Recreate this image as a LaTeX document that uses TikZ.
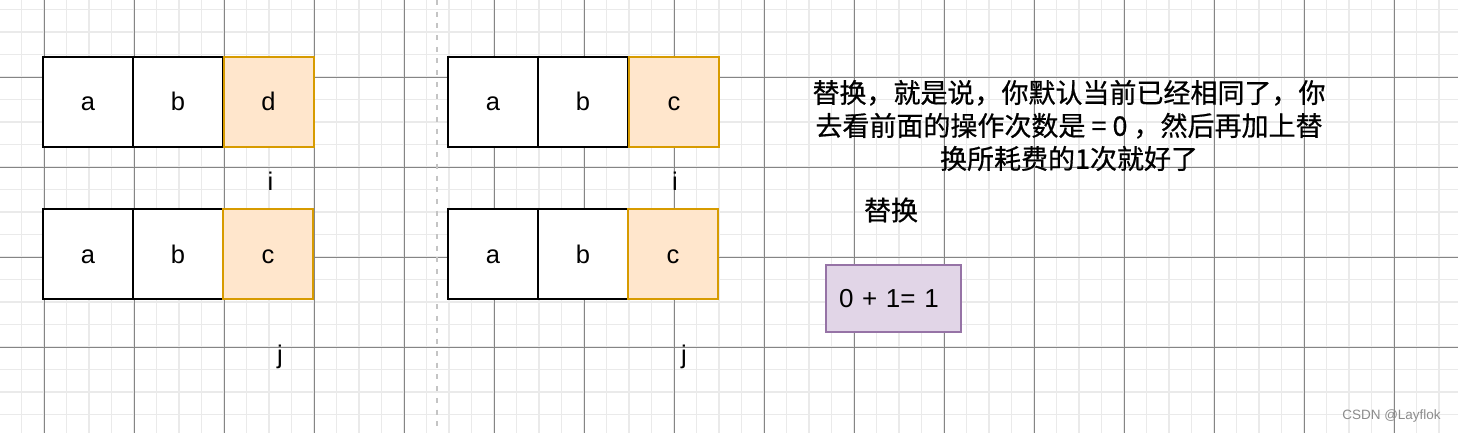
\documentclass[tikz,border=0pt]{standalone}
\usepackage{fontspec}
\setmainfont{Liberation Sans}
\newfontfamily\cjk[FakeBold=0.6]{Noto Sans CJK SC}
\definecolor{minorgrid}{HTML}{EAEAEA}
\definecolor{majorgrid}{HTML}{858585}
\definecolor{sepline}{HTML}{C4C4C4}
\definecolor{orfill}{HTML}{FFE6CC}
\definecolor{ordraw}{HTML}{D79B00}
\definecolor{pufill}{HTML}{E1D5E7}
\definecolor{pudraw}{HTML}{9673A6}
\begin{document}
\begin{tikzpicture}[x=1pt,y=-1pt,
  minorline/.style={draw=minorgrid, line width=1.6pt},
  majorline/.style={draw=majorgrid, line width=0.9pt},
  sepstyle/.style={draw=sepline, line width=1.6pt, dash pattern=on 5pt off 6.7pt},
  cell/.style={draw=black, fill=white, line width=2pt, minimum width=90pt, minimum height=90pt, inner sep=0pt, text height=18pt, text depth=0pt, font=\fontsize{25.5}{30}\selectfont},
  hl/.style={cell, fill=orfill, draw=ordraw},
  lbl/.style={inner sep=0pt, font=\fontsize{25.5}{30}\selectfont},
  cjktext/.style={inner sep=0pt, align=center, font=\cjk\fontsize{27}{33}\selectfont},
  sumbox/.style={draw=pudraw, fill=pufill, line width=2pt, minimum height=67pt, text width=109pt, inner xsep=13pt, inner ysep=0pt, align=left, font=\fontsize{26}{30}\selectfont},
  wm/.style={inner sep=0pt, text=black!45, font=\fontsize{13.5}{16}\selectfont}
]
\useasboundingbox (0,0) rectangle (1458,433);
\fill[white] (0,0) rectangle (1458,433);
% grid
\foreach \i in {0,...,65} \draw[minorline] ({-1+22.5*\i},0) -- ({-1+22.5*\i},433);
\foreach \i in {0,...,18} \draw[minorline] (0,{9.5+22.5*\i}) -- (1458,{9.5+22.5*\i});
\foreach \i in {0,...,15} \draw[majorline] ({44+90*\i},0) -- ({44+90*\i},433);
\foreach \i in {0,...,3} \draw[majorline] (0,{77+90*\i}) -- (1458,{77+90*\i});
% separator
\draw[sepstyle] (437,0) -- (437,433);
% left column
\node[cell] (la1) at (88,102) {a};
\node[cell] (lb1) at (178,102) {b};
\node[hl]   (lc1) at (268.5,102) {d};
\node[cell] (la2) at (88,254) {a};
\node[cell] (lb2) at (178,254) {b};
\node[hl]   (lc2) at (268,254) {c};
\node[lbl] (li) at (270.5,181) {i};
\node[lbl] (lj) at (280,357) {j};
% right column
\node[cell] (ra1) at (493,102) {a};
\node[cell] (rb1) at (583,102) {b};
\node[hl]   (rc1) at (674,102) {c};
\node[cell] (ra2) at (493,254) {a};
\node[cell] (rb2) at (583,254) {b};
\node[hl]   (rc2) at (673,254) {c};
\node[lbl] (ri) at (675,181) {i};
\node[lbl] (rj) at (684,357) {j};
% explanation
\node[cjktext] (expl) at (1069,125.5) {替换，就是说，你默认当前已经相同了，你\\去看前面的操作次数是 = 0 ，然后再加上替\\换所耗费的1次就好了};
\node[cjktext] (rep) at (891,210) {替换};
\node[sumbox] (sum) at (893.5,298.5) {0 + 1= 1};
\node[wm] (mark) at (1391.5,416) {CSDN @Layflok};
\end{tikzpicture}
\end{document}
